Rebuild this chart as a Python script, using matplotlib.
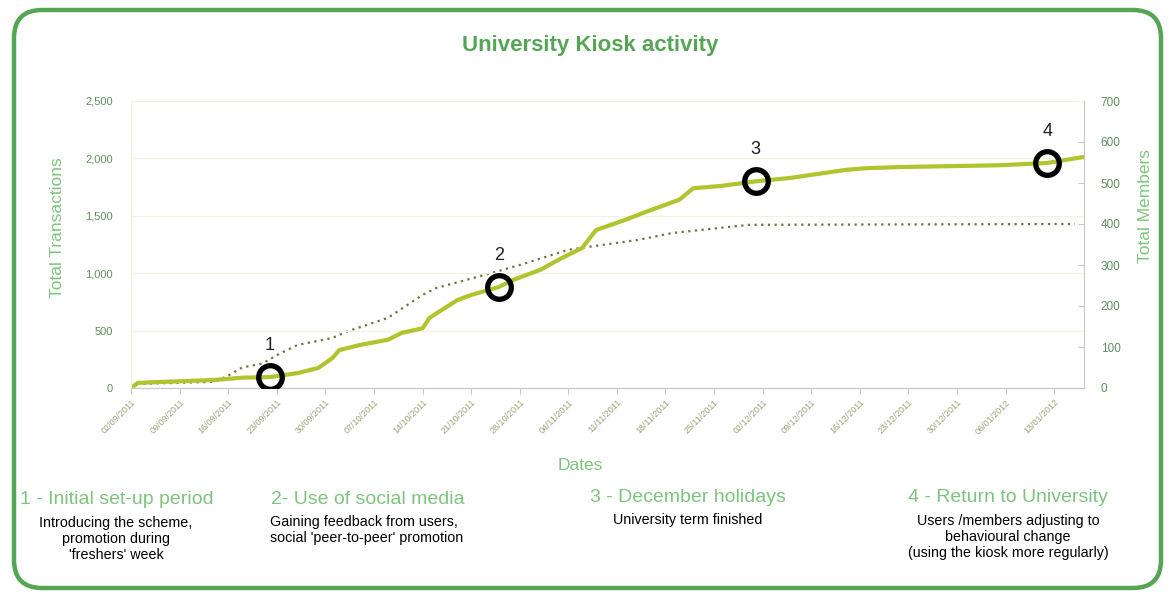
import numpy as np
import pandas as pd
import matplotlib
matplotlib.use("Agg")
import matplotlib.pyplot as plt
import matplotlib.dates as mdates
from matplotlib.patches import FancyBboxPatch
from matplotlib.ticker import FuncFormatter, MultipleLocator

plt.rcParams['font.family'] = ['Liberation Sans', 'DejaVu Sans']

# cumulative kiosk transactions (left axis)
trans_dates = ['2011-09-02', '2011-09-03', '2011-09-14', '2011-09-18', '2011-09-22',
               '2011-09-26', '2011-09-29', '2011-10-01', '2011-10-02', '2011-10-05',
               '2011-10-09', '2011-10-11', '2011-10-14', '2011-10-15', '2011-10-16',
               '2011-10-19', '2011-10-21', '2011-10-25', '2011-10-27', '2011-10-31',
               '2011-11-03', '2011-11-06', '2011-11-08', '2011-11-12', '2011-11-15',
               '2011-11-20', '2011-11-22', '2011-11-26', '2011-12-01', '2011-12-06',
               '2011-12-14', '2011-12-17', '2011-12-22', '2012-01-05', '2012-01-12',
               '2012-01-17']
transactions = [0, 45, 70, 90, 95,
                130, 175, 260, 330, 375,
                420, 480, 520, 610, 650,
                765, 810, 880, 940, 1030,
                1130, 1220, 1376, 1460, 1530,
                1640, 1740, 1760, 1800, 1830,
                1900, 1915, 1925, 1940, 1960,
                2010]

# cumulative members (right axis)
member_dates = ['2011-09-02', '2011-09-03', '2011-09-14', '2011-09-16', '2011-09-18',
                '2011-09-21', '2011-09-23', '2011-09-26', '2011-10-01', '2011-10-03',
                '2011-10-06', '2011-10-09', '2011-10-14', '2011-10-16', '2011-10-23',
                '2011-10-28', '2011-11-04', '2011-11-06', '2011-11-14', '2011-11-19',
                '2011-11-30', '2012-01-16']
members = [0, 10, 15, 30, 50,
           60, 80, 105, 122, 137,
           154, 171, 227, 244, 276,
           300, 337, 342, 361, 378,
           398, 400]

# highlighted points
event_dates = ['2011-09-22', '2011-10-25', '2011-12-01', '2012-01-12']
event_values = [95, 880, 1800, 1960]
event_labels = ['1', '2', '3', '4']

tick_dates = pd.date_range('2011-09-02', periods=20, freq='7D')

green = '#55a555'
light_green = '#7ec47e'
line_col = '#b0c42e'
dot_col = '#707040'

fig = plt.figure(figsize=(11.73, 5.99), dpi=100)

# background layer in pixel coordinates for the frame and free text
bg = fig.add_axes([0, 0, 1, 1])
bg.set_xlim(0, 1173)
bg.set_ylim(599, 0)
bg.axis('off')
bg.set_zorder(0)
frame = FancyBboxPatch((14, 10), 1147, 578, boxstyle='round,pad=0,rounding_size=28',
                       fill=False, edgecolor=green, linewidth=3.2)
bg.add_patch(frame)

bg.text(590, 46, 'University Kiosk activity', fontsize=16, fontweight='bold',
        color=green, ha='center', va='center')
bg.text(58, 228, 'Total Transactions', fontsize=12.5, color=light_green,
        rotation=90, ha='center', va='center')
bg.text(1146, 206, 'Total Members', fontsize=12.5, color=light_green,
        rotation=90, ha='center', va='center')
bg.text(580, 466, 'Dates', fontsize=12.5, color=light_green, ha='center', va='center')

# footnote blocks
bg.text(117, 500, '1 - Initial set-up period', fontsize=14, color=light_green,
        ha='center', va='center')
bg.text(116, 539, "Introducing the scheme,\npromotion during\n'freshers' week",
        fontsize=10.3, color='black', ha='center', va='center', linespacing=1.2)
bg.text(368, 500, '2- Use of social media', fontsize=14, color=light_green,
        ha='center', va='center')
bg.text(270, 530, "Gaining feedback from users,\nsocial 'peer-to-peer' promotion",
        fontsize=10.3, color='black', ha='left', va='center', linespacing=1.2)
bg.text(688, 497, '3 - December holidays', fontsize=14, color=light_green,
        ha='center', va='center')
bg.text(688, 520, 'University term finished', fontsize=10.3, color='black',
        ha='center', va='center')
bg.text(1008, 497, '4 - Return to University', fontsize=14, color=light_green,
        ha='center', va='center')
bg.text(1008, 537, "Users /members adjusting to\nbehavioural change\n(using the kiosk more regularly)",
        fontsize=10.3, color='black', ha='center', va='center', linespacing=1.2)

# main chart
ax = fig.add_axes([131 / 1173, 1 - 388 / 599, (1084 - 131) / 1173, (388 - 101) / 599])
ax2 = ax.twinx()
ax.set_zorder(2)
ax2.set_zorder(1)
ax.patch.set_visible(False)

td = pd.to_datetime(trans_dates)
md = pd.to_datetime(member_dates)
ed = pd.to_datetime(event_dates)

ax2.plot(md, members, color=dot_col, linewidth=1.6, linestyle=(0, (1, 2)))
ax.plot(td, transactions, color=line_col, linewidth=3, solid_joinstyle='round')
ax.plot(ed, event_values, linestyle='none', marker='o', markersize=17,
        markerfacecolor='none', markeredgecolor='black', markeredgewidth=3.8, zorder=5)
for d, v, lab in zip(ed, event_values, event_labels):
    ax.annotate(lab, (d, v), xytext=(0, 23), textcoords='offset points',
                ha='center', va='center', fontsize=13, color='#222222')

x0 = pd.Timestamp('2011-09-02')
ax.set_xlim(x0, x0 + pd.Timedelta(days=137.3))
ax.set_ylim(0, 2500)
ax2.set_ylim(0, 700)

ax.yaxis.set_major_locator(MultipleLocator(500))
ax.yaxis.set_major_formatter(FuncFormatter(lambda v, p: f'{int(v):,}'))
ax2.yaxis.set_major_locator(MultipleLocator(100))

ax.set_xticks(tick_dates)
ax.xaxis.set_major_formatter(mdates.DateFormatter('%d/%m/%Y'))
for lbl in ax.get_xticklabels():
    lbl.set_rotation(45)
    lbl.set_ha('right')
    lbl.set_rotation_mode('anchor')
ax.tick_params(axis='x', labelsize=6.5, labelcolor='#a0a07a', length=4,
               color='#c8c8c8', pad=3)
ax.tick_params(axis='y', labelsize=8, labelcolor='#5f8f5f', length=0, pad=13)
ax2.tick_params(axis='y', labelsize=8.5, labelcolor='#5f8f5f', length=4,
                direction='in', color='#c8c8c8', pad=12)

ax.grid(axis='y', color='#f1f1e4', linewidth=1)
ax.set_axisbelow(True)

for a in (ax, ax2):
    a.spines['top'].set_visible(False)
    a.spines['left'].set_color('#f2f2dc')
    a.spines['right'].set_color('#c8c8c8')
    a.spines['bottom'].set_color('#c8c8c8')
ax.spines['right'].set_visible(False)
ax2.spines['left'].set_visible(False)

fig.savefig('out.png', dpi=100)
